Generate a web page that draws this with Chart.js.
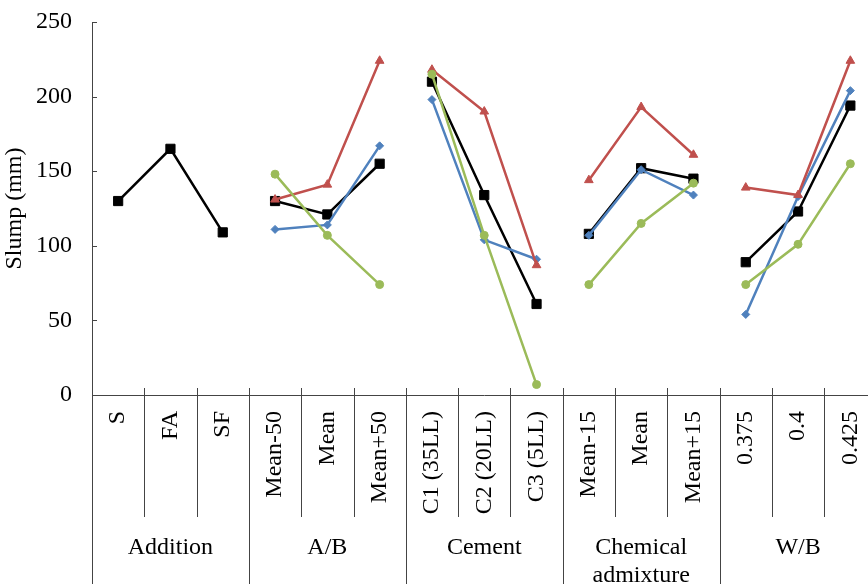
<!DOCTYPE html>
<html>
<head>
<meta charset="utf-8">
<title>Slump</title>
<script src="https://cdn.jsdelivr.net/npm/chart.js@4/dist/chart.umd.min.js"></script>
<style>
    html, body { margin: 0; padding: 0; background: #fff; overflow: hidden; }
    #wrap { width: 884px; height: 584px; }
</style>
</head>
<body>
<div id="wrap"><canvas id="chart" width="884" height="584"></canvas></div>
<script>
// Slump (mm) per parameter level, four mixes.
var categories = ['S', 'FA', 'SF',
    'Mean-50', 'Mean', 'Mean+50',
    'C1 (35LL)', 'C2 (20LL)', 'C3 (5LL)',
    'Mean-15', 'Mean', 'Mean+15',
    '0.375', '0.4', '0.425'];
var groupLabels = [['Addition'], ['A/B'], ['Cement'], ['Chemical', 'admixture'], ['W/B']];
var groupSizes = [3, 3, 3, 3, 3];

var blackValues = [130, 165, 109, 130, 121, 155, 210, 134, 61, 108, 152, 145, 89, 123, 194];
var blueValues  = [null, null, null, 111, 114, 167, 198, 104, 91, 107, 151, 134, 54, 133, 204];
var redValues   = [null, null, null, 131, 141, 224, 218, 190, 87, 144, 193, 161, 139, 134, 224];
var greenValues = [null, null, null, 148, 107, 74, 215, 107, 7, 74, 115, 142, 74, 101, 155];

var yTicks = [0, 50, 100, 150, 200, 250];

(function () {
    'use strict';

    var FONT = "'Liberation Serif', 'Times New Roman', serif";
    var AXIS = '#444';

    // group index for every category, used to break lines between groups
    var groupOf = [];
    groupSizes.forEach(function (n, g) {
        for (var i = 0; i < n; i++) groupOf.push(g);
    });

    function series(label, data, color, style, radius, order) {
        return {
            label: label,
            data: data,
            borderColor: color,
            backgroundColor: color,
            borderWidth: 2.5,
            pointStyle: style,
            pointRadius: radius,
            pointHoverRadius: radius,
            pointBorderWidth: 1,
            order: order,
            segment: {
                borderColor: function (ctx) {
                    return groupOf[ctx.p0DataIndex] !== groupOf[ctx.p1DataIndex] ? 'rgba(0,0,0,0)' : undefined;
                }
            }
        };
    }

    // separators, inner y ticks and group names under the category labels
    var groupAxis = {
        id: 'groupAxis',
        afterDraw: function (chart) {
            var ctx = chart.ctx;
            var x = chart.scales.x, y = chart.scales.y;
            var area = chart.chartArea;
            var step = (area.right - area.left) / categories.length;
            var h = chart.height;

            ctx.save();
            ctx.strokeStyle = AXIS;
            ctx.lineWidth = 1;
            ctx.beginPath();
            // left axis runs down to the bottom edge
            ctx.moveTo(area.left + 0.5, area.bottom);
            ctx.lineTo(area.left + 0.5, h);
            yTicks.forEach(function (v) {
                var py = Math.round(y.getPixelForValue(v)) + 0.5;
                ctx.moveTo(area.left, py);
                ctx.lineTo(area.left + 5, py);
            });
            var idx = 0;
            groupSizes.forEach(function (n) {
                for (var i = 1; i <= n; i++) {
                    var bx = Math.round(area.left + (idx + i) * step) + 0.5;
                    ctx.moveTo(bx, area.bottom - 7);
                    ctx.lineTo(bx, i === n ? h : area.bottom + 122);
                }
                idx += n;
            });
            ctx.stroke();

            ctx.fillStyle = '#000';
            ctx.font = '24px ' + FONT;
            ctx.textAlign = 'center';
            ctx.textBaseline = 'middle';
            idx = 0;
            groupSizes.forEach(function (n, g) {
                var cx = (x.getPixelForValue(idx) + x.getPixelForValue(idx + n - 1)) / 2;
                groupLabels[g].forEach(function (line, k) {
                    ctx.fillText(line, cx, area.bottom + 153 + k * 28);
                });
                idx += n;
            });
            ctx.restore();
        }
    };

    new Chart(document.getElementById('chart'), {
        type: 'line',
        data: {
            labels: categories,
            datasets: [
                series('Series 1', blackValues, '#000000', 'rect', 6.5, 3),
                series('Series 2', blueValues, '#4F81BD', 'rectRot', 4, 2),
                series('Series 3', redValues, '#C0504D', 'triangle', 5, 1),
                series('Series 4', greenValues, '#9BBB59', 'circle', 4, 0)
            ]
        },
        options: {
            responsive: false,
            animation: false,
            layout: { padding: { top: 22, right: 1, left: 0, bottom: 0 } },
            plugins: {
                legend: { display: false },
                tooltip: { enabled: false }
            },
            scales: {
                x: {
                    type: 'category',
                    offset: true,
                    grid: { display: false, drawTicks: false, offset: true },
                    border: { display: true, color: AXIS, width: 1 },
                    ticks: {
                        autoSkip: false,
                        minRotation: 90,
                        maxRotation: 90,
                        padding: 16,
                        color: '#000',
                        font: { family: FONT, size: 24 }
                    },
                    afterFit: function (scale) {
                        scale.height = 189;
                        scale.paddingLeft = 0;
                        scale.paddingRight = 0;
                    }
                },
                y: {
                    min: 0,
                    max: 250,
                    grid: { display: false, drawTicks: false },
                    border: { display: true, color: AXIS, width: 1 },
                    ticks: {
                        stepSize: 50,
                        padding: 20,
                        color: '#000',
                        font: { family: FONT, size: 24 }
                    },
                    title: {
                        display: true,
                        text: 'Slump (mm)',
                        color: '#000',
                        padding: 0,
                        font: { family: FONT, size: 24 }
                    },
                    afterFit: function (scale) {
                        scale.width = 92;
                        scale.paddingTop = 0;
                        scale.paddingBottom = 0;
                    }
                }
            }
        },
        plugins: [groupAxis]
    });
})();
</script>
</body>
</html>
